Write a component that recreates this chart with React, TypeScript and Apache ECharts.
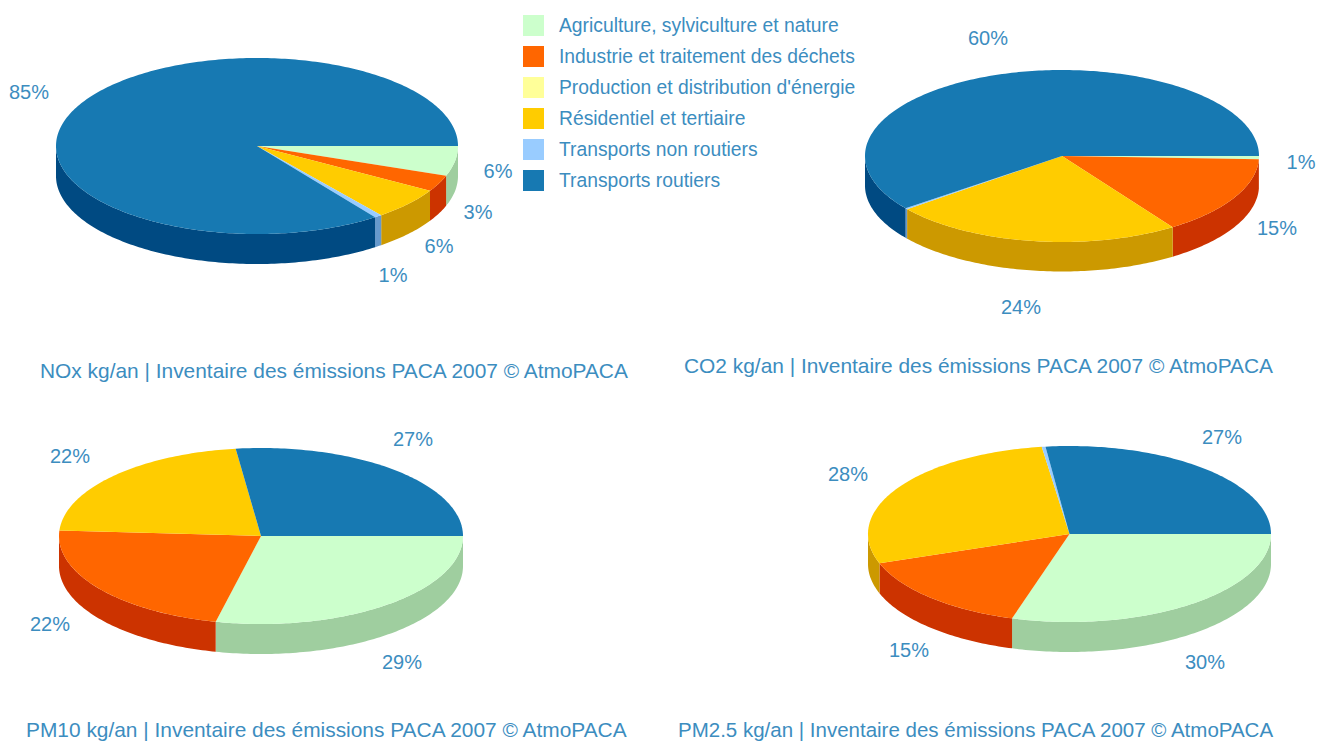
import React, { useEffect, useRef } from "react";
import * as echarts from "echarts";

// Emission sectors, in drawing order (clockwise from the 3 o'clock position)
const categories = [
  "Agriculture, sylviculture et nature",
  "Industrie et traitement des déchets",
  "Production et distribution d'énergie",
  "Résidentiel et tertiaire",
  "Transports non routiers",
  "Transports routiers",
];

// Share of each sector per pollutant, in percent
const noxValues = [5.5, 3.0, 0, 5.9, 0.6, 85.0];
const co2Values = [0.6, 14.9, 0, 23.9, 0.2, 60.4];
const pm10Values = [28.6, 22.4, 0, 22, 0, 27];
const pm25Values = [29.6, 15, 0, 28.2, 0.3, 26.9];

const noxTitle = "NOx kg/an | Inventaire des émissions PACA 2007 © AtmoPACA";
const co2Title = "CO2 kg/an | Inventaire des émissions PACA 2007 © AtmoPACA";
const pm10Title = "PM10 kg/an | Inventaire des émissions PACA 2007 © AtmoPACA";
const pm25Title = "PM2.5 kg/an | Inventaire des émissions PACA 2007 © AtmoPACA";

const topColors = ["#CCFFCC", "#FF6600", "#FFFF99", "#FFCC00", "#99CCFF", "#1779B2"];
const sideColors = ["#9FCE9F", "#CC3300", "#CCCC77", "#CC9900", "#6699CC", "#004A82"];
const textColor = "#3C8DBF";
const fontFamily = '"Liberation Sans", Arial, sans-serif';

type PieLayout = {
  values: number[];
  title: string;
  titleX: number;
  titleY: number;
  titleSize: number;
  cx: number;
  cy: number;
  rx: number;
  ry: number;
  depth: number;
  labels: ([number, number] | null)[];
};

// Pie geometry and the centre of each percentage label
const pies: PieLayout[] = [
  {
    values: noxValues, title: noxTitle, titleX: 40, titleY: 370, titleSize: 20.9,
    cx: 257, cy: 146, rx: 201, ry: 88, depth: 30,
    labels: [[498, 171], [478, 212], null, [439, 246], [393, 275], [29, 92]],
  },
  {
    values: co2Values, title: co2Title, titleX: 684, titleY: 365, titleSize: 20.9,
    cx: 1062, cy: 156, rx: 197, ry: 86, depth: 29.5,
    labels: [[1301, 162], [1277, 228], null, [1021, 307], null, [988, 38]],
  },
  {
    values: pm10Values, title: pm10Title, titleX: 26, titleY: 729, titleSize: 20.9,
    cx: 261, cy: 536, rx: 202, ry: 88, depth: 30,
    labels: [[402, 662], [50, 624], null, [70, 456], null, [413, 439]],
  },
  {
    values: pm25Values, title: pm25Title, titleX: 678, titleY: 729, titleSize: 20.5,
    cx: 1069.5, cy: 534, rx: 201.5, ry: 88, depth: 30,
    labels: [[1205, 662], [909, 650], null, [848, 474], null, [1222, 437]],
  },
];

const LABEL_FONT_SIZE = 20;
const LEGEND_FONT_SIZE = 19.3;

// Points along the elliptical rim between two angles (radians, clockwise on screen)
function arcPoints(p: PieLayout, from: number, to: number, dy = 0): number[][] {
  const steps = Math.max(2, Math.ceil(((to - from) * 180) / Math.PI));
  const pts: number[][] = [];
  for (let i = 0; i <= steps; i++) {
    const a = from + ((to - from) * i) / steps;
    pts.push([p.cx + p.rx * Math.cos(a), p.cy + p.ry * Math.sin(a) + dy]);
  }
  return pts;
}

function pieRenderer(p: PieLayout) {
  const total = p.values.reduce((s, v) => s + v, 0);
  return (params: any, api: any) => {
    const i = params.dataIndex;
    const value = api.value(0);
    if (!value) return null;
    const before = p.values.slice(0, i).reduce((s, v) => s + v, 0);
    const start = (before / total) * 2 * Math.PI;
    const end = ((before + value) / total) * 2 * Math.PI;
    const children: any[] = [];

    // Side wall: only the part of the rim that faces the viewer
    const wallFrom = Math.max(start, 0);
    const wallTo = Math.min(end, Math.PI);
    if (wallTo > wallFrom) {
      const upper = arcPoints(p, wallFrom, wallTo);
      const lower = arcPoints(p, wallFrom, wallTo, p.depth).reverse();
      children.push({
        type: "polygon",
        z2: 1,
        shape: { points: upper.concat(lower) },
        style: { fill: sideColors[i] },
      });
    }

    // Top face of the slice
    children.push({
      type: "polygon",
      z2: 2,
      shape: { points: [[p.cx, p.cy], ...arcPoints(p, start, end)] },
      style: { fill: topColors[i] },
    });

    // Percentage label, derived from the slice value
    const at = p.labels[i];
    if (at) {
      children.push({
        type: "text",
        z2: 3,
        style: {
          text: `${Math.round((value / total) * 100)}%`,
          x: at[0],
          y: at[1],
          align: "center",
          verticalAlign: "middle",
          fill: textColor,
          font: `${LABEL_FONT_SIZE}px ${fontFamily}`,
        },
      });
    }
    return { type: "group", children };
  };
}

export default function App() {
  const ref = useRef<HTMLDivElement>(null);

  useEffect(() => {
    if (!ref.current) return;
    const chart = echarts.init(ref.current, undefined, { renderer: "svg" });
    chart.setOption({
      animation: false,
      backgroundColor: "#FFFFFF",
      title: pies.map((p) => ({
        text: p.title,
        left: p.titleX,
        top: p.titleY - 13,
        padding: 0,
        textStyle: {
          color: textColor,
          fontFamily,
          fontSize: p.titleSize,
          fontWeight: "normal",
          lineHeight: 26,
        },
      })),
      legend: {
        data: categories,
        orient: "vertical",
        left: 523,
        top: 15,
        padding: 0,
        icon: "rect",
        itemWidth: 21,
        itemHeight: 21,
        itemGap: 10,
        selectedMode: false,
        textStyle: {
          color: textColor,
          fontFamily,
          fontSize: LEGEND_FONT_SIZE,
          padding: [0, 0, 2, 10],
        },
      },
      series: [
        ...pies.map((p) => ({
          type: "custom",
          name: p.title,
          coordinateSystem: "none",
          silent: true,
          data: p.values.map((v) => [v]),
          renderItem: pieRenderer(p),
        })),
        // Empty series that give the legend one colour swatch per sector
        ...categories.map((name, i) => ({
          type: "custom",
          name,
          coordinateSystem: "none",
          silent: true,
          data: [],
          itemStyle: { color: topColors[i] },
          renderItem: () => null,
        })),
      ],
    });
    return () => chart.dispose();
  }, []);

  return (
    <div
      ref={ref}
      style={{ position: "absolute", left: 0, top: 0, width: 1317, height: 741 }}
    />
  );
}
